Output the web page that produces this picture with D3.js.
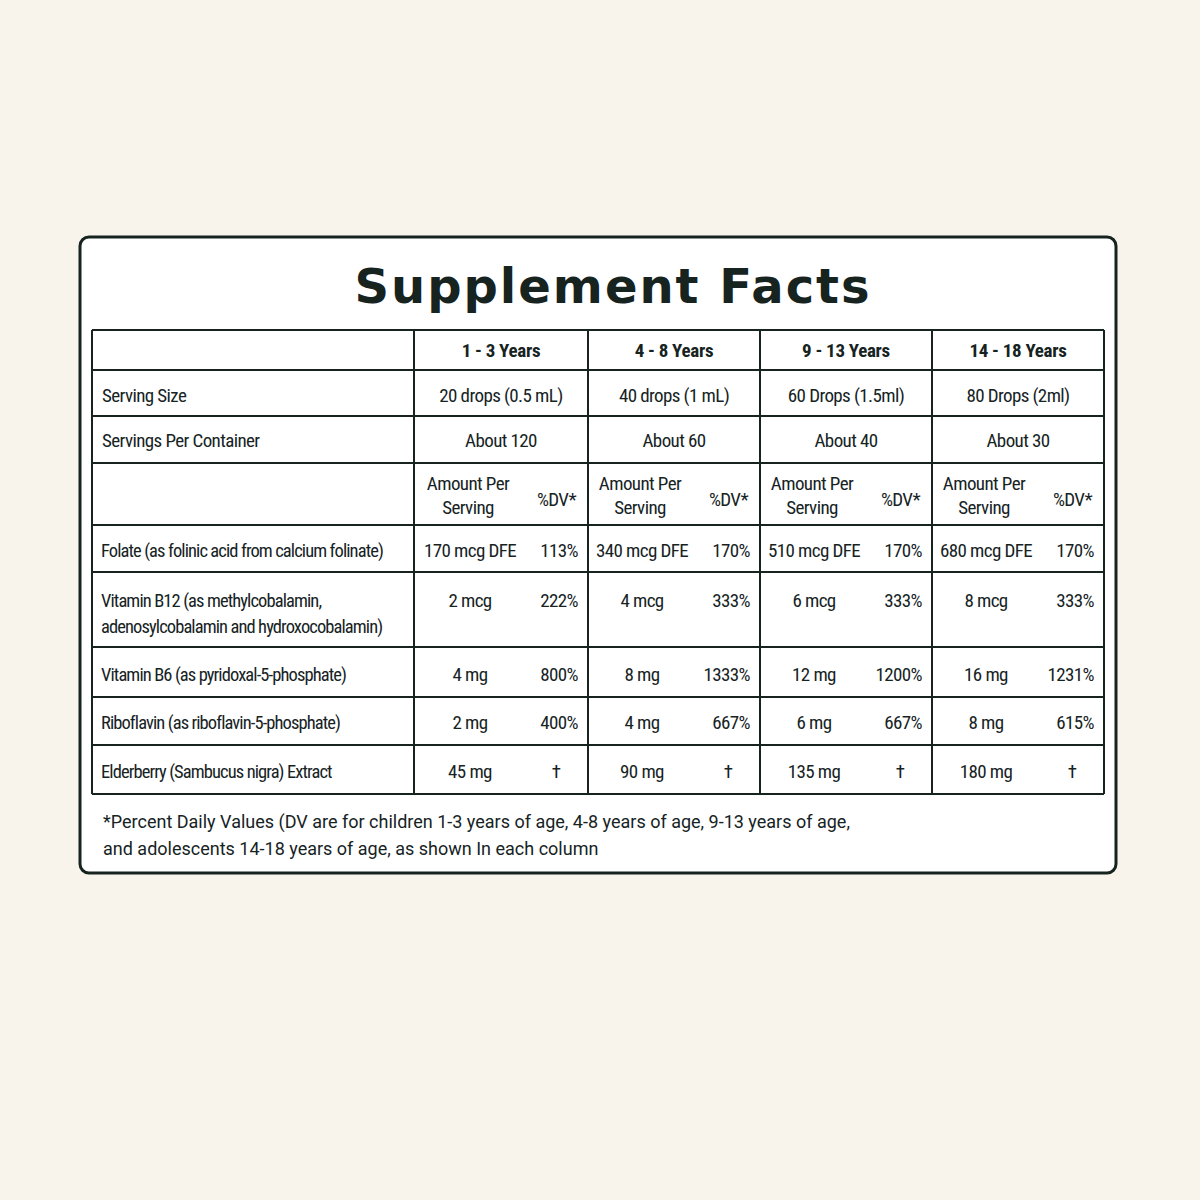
<!DOCTYPE html>
<html><head><meta charset="utf-8">
<script src="https://cdn.jsdelivr.net/npm/d3@7"></script>
<style>body{margin:0;background:#f8f4ec}</style></head>
<body><svg id="c" width="1200" height="1200"></svg>
<script>
const ages=["1 - 3 Years","4 - 8 Years","9 - 13 Years","14 - 18 Years"];
const servingSize=["20 drops (0.5 mL)","40 drops (1 mL)","60 Drops (1.5ml)","80 Drops (2ml)"];
const servingsPer=["About 120","About 60","About 40","About 30"];
const nutrients=[["Folate (as folinic acid from calcium folinate)"],["Vitamin B12 (as methylcobalamin,","adenosylcobalamin and hydroxocobalamin)"],["Vitamin B6 (as pyridoxal-5-phosphate)"],["Riboflavin (as riboflavin-5-phosphate)"],["Elderberry (Sambucus nigra) Extract"]];
const amounts=[["170 mcg DFE","340 mcg DFE","510 mcg DFE","680 mcg DFE"],["2 mcg","4 mcg","6 mcg","8 mcg"],["4 mg","8 mg","12 mg","16 mg"],["2 mg","4 mg","6 mg","8 mg"],["45 mg","90 mg","135 mg","180 mg"]];
const dv=[["113%","170%","170%","170%"],["222%","333%","333%","333%"],["800%","1333%","1200%","1231%"],["400%","667%","667%","615%"],["†","†","†","†"]];
const footnote=["*Percent Daily Values (DV are for children 1-3 years of age, 4-8 years of age, 9-13 years of age,","and adolescents 14-18 years of age, as shown In each column"];

const ink="#16231f";
const svg=d3.select("#c");
svg.append("rect").attr("width",1200).attr("height",1200).attr("fill","#f8f4ec");
svg.append("rect").attr("x",80).attr("y",237).attr("width",1036).attr("height",636).attr("rx",9)
 .attr("fill","#fff").attr("stroke",ink).attr("stroke-width",3);
svg.append("text").attr("x",613).attr("y",303).attr("text-anchor","middle").attr("fill",ink)
 .attr("font-family","DejaVu Sans").attr("font-weight","bold").attr("font-size",48).attr("letter-spacing",2).text("Supplement Facts");

const colEdges=[92,414,588,760,932,1104];
const rowEdges=[330,370,416,463,525,572,647,697,745,794];
const g=svg.append("g");
const F="'Liberation Sans Narrow','Roboto Condensed','Roboto',sans-serif";
rowEdges.forEach(y=>g.append("line").attr("x1",92).attr("x2",1104).attr("y1",y).attr("y2",y).attr("stroke",ink).attr("stroke-width",2));
colEdges.forEach(x=>g.append("line").attr("x1",x).attr("x2",x).attr("y1",330).attr("y2",794).attr("stroke",ink).attr("stroke-width",2));
function t(x,y,s,opt={}){return g.append("text").attr("x",x).attr("y",y).attr("fill",ink).attr("font-family",F)
 .attr("font-size",opt.size||19).attr("letter-spacing",opt.ls!=null?opt.ls:-0.6).attr("font-weight",opt.w||"normal").attr("text-anchor",opt.a||"start").text(s);}
const cx=i=>(colEdges[i+1]+colEdges[i+2])/2;
ages.forEach((a,i)=>t(cx(i),357,a,{a:"middle",w:"bold",size:19,ls:-0.3}));
t(102,402,"Serving Size");t(102,447,"Servings Per Container");
servingSize.forEach((s,i)=>t(cx(i),402,s,{a:"middle"}));
servingsPer.forEach((s,i)=>t(cx(i),447,s,{a:"middle"}));
ages.forEach((a,i)=>{const x0=colEdges[i+2];
 t(x0-120,490,"Amount Per",{a:"middle"});t(x0-120,514,"Serving",{a:"middle"});t(x0-12,506,"%DV*",{a:"end"});});
const rowText=[[557],[607,633],[681],[729],[778]];
const amtY=[557,607,681,729,778];
nutrients.forEach((n,r)=>{
 n.forEach((l,k)=>t(101,rowText[r][k],l,{size:18.5,ls:-0.9}));
 amounts[r].forEach((v,i)=>t(colEdges[i+2]-118,amtY[r],v,{a:"middle"}));
 dv[r].forEach((v,i)=>t(r===4?colEdges[i+2]-32:colEdges[i+2]-10,amtY[r],v,{a:r===4?"middle":"end"}));
});
footnote.forEach((l,k)=>svg.append("text").attr("x",103).attr("y",828+k*27).attr("fill",ink)
 .attr("font-family","Roboto, sans-serif").attr("font-size",18).text(l));
</script></body></html>
